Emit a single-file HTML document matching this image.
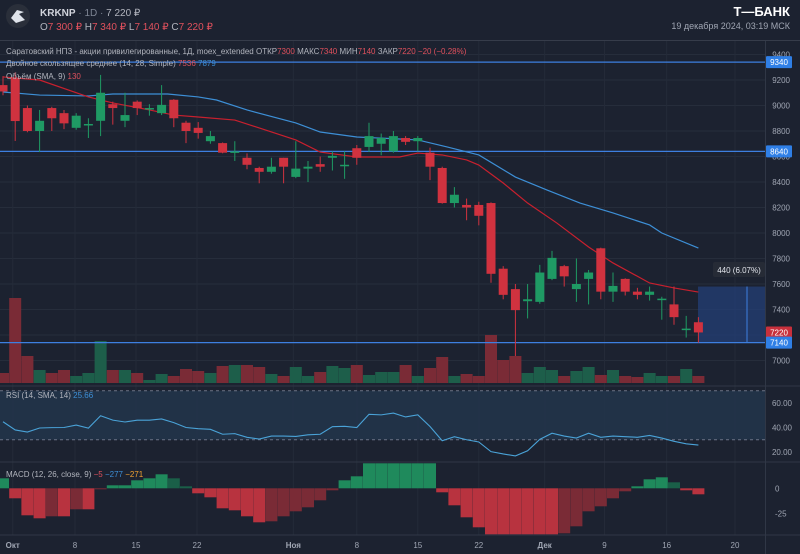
<!DOCTYPE html>
<html><head><meta charset="utf-8">
<style>
html,body{margin:0;padding:0;background:#1c2230;width:800px;height:554px;overflow:hidden;font-family:"Liberation Sans","Noto Sans CJK SC",sans-serif;}
svg{display:block}
</style></head>
<body>
<svg id="c" width="800" height="554" xmlns="http://www.w3.org/2000/svg">
<rect x="0" y="0" width="800" height="554" fill="#1c2230"/>
<g>
<circle cx="18" cy="16" r="12" fill="#2a2f3a"/>
<path d="M11 18 L17 10 L24 12 L19 14 L25 20 L16 23 Z" fill="#dfe3ea"/>
<text x="40" y="16" font-size="10" fill="#d1d4dc"><tspan font-weight="bold">KRKNP</tspan><tspan fill="#7e8594"> · 1D · </tspan><tspan fill="#b2b5be">7 220 ₽</tspan></text>
<text x="40" y="30" font-size="10" fill="#b2b5be">O<tspan fill="#e0515d">7 300 ₽</tspan>  H<tspan fill="#e0515d">7 340 ₽</tspan>  L<tspan fill="#e0515d">7 140 ₽</tspan>  C<tspan fill="#e0515d">7 220 ₽</tspan></text>
<text x="790" y="16" font-size="13" font-weight="bold" fill="#ffffff" text-anchor="end">Т—БАНК</text>
<text x="790" y="29" font-size="9" fill="#a0a6b3" text-anchor="end">19 декабря 2024, 03:19 МСК</text>
<line x1="0" y1="40.5" x2="800" y2="40.5" stroke="#363c4a"/>
</g>
<g id="grid"></g>
<g id="plot"></g>
<g>
<text x="6" y="54" font-size="8" fill="#b2b5be">Саратовский НПЗ - акции привилегированные, 1Д, moex_extended  ОТКР<tspan fill="#e0515d">7300</tspan>  МАКС<tspan fill="#e0515d">7340</tspan>  МИН<tspan fill="#e0515d">7140</tspan>  ЗАКР<tspan fill="#e0515d">7220</tspan>  <tspan fill="#e0515d">−20 (−0.28%)</tspan></text>
<text x="6" y="66" font-size="8" fill="#b2b5be">Двойное скользящее среднее (14, 28, Simple)  <tspan fill="#e0515d">7536</tspan>  <tspan fill="#3d8fd6">7879</tspan></text>
<text x="6" y="79" font-size="8" fill="#b2b5be">Объём (SMA, 9)  <tspan fill="#e0515d">130</tspan></text>
<text x="6" y="398" font-size="8" fill="#b2b5be">RSI (14, SMA, 14)  <tspan fill="#3d8fd6">25.66</tspan></text>
<text x="6" y="477" font-size="8" fill="#b2b5be">MACD (12, 26, close, 9)  <tspan fill="#e0515d">−5</tspan>  <tspan fill="#3d8fd6">−277</tspan>  <tspan fill="#f0a030">−271</tspan></text>
</g>
</svg>
<script>
const opens =[9160,9216,8980,8800,8980,8940,8825,8845,8880,9010,8880,9030,8970,8940,9045,8865,8825,8720,8705,8630,8590,8510,8480,8590,8440,8505,8540,8590,8530,8665,8675,8700,8640,8745,8720,8630,8510,8235,8220,8220,8235,7720,7560,7465,7460,7640,7740,7560,7640,7880,7540,7640,7540,7515,7475,7440,7240,7300];
const highs =[9230,9260,9000,8965,8990,8965,8940,8900,9240,9030,9100,9040,9010,9160,9050,8880,8870,8800,8710,8720,8625,8520,8590,8590,8720,8565,8600,8640,8640,8690,8865,8780,8800,8760,8760,8670,8520,8360,8270,8245,8240,7740,7600,7600,7750,7860,7750,7800,7710,7885,7690,7645,7570,7580,7500,7580,7350,7340];
const lows  =[9080,8722,8790,8635,8800,8815,8810,8745,8760,8850,8830,8925,8920,8925,8830,8705,8740,8700,8625,8565,8500,8390,8465,8390,8430,8400,8480,8490,8425,8535,8635,8610,8630,8690,8640,8415,8230,8200,8100,8060,7610,7480,7035,7330,7445,7630,7580,7460,7440,7480,7460,7510,7480,7470,7320,7280,7180,7140];
const closes=[9110,8878,8800,8880,8900,8860,8920,8855,9100,8980,8925,8980,8980,9005,8900,8800,8785,8760,8630,8640,8535,8480,8520,8520,8505,8520,8520,8605,8535,8590,8760,8745,8760,8715,8745,8520,8235,8300,8200,8135,7680,7515,7395,7480,7690,7805,7660,7600,7690,7540,7585,7540,7515,7540,7485,7340,7250,7220];
const volumes=[10,85,27,13,10,13,7,10,42,13,13,10,3,9,7,14,12,10,17,18,18,16,9,7,16,7,11,17,15,18,8,11,11,18,7,15,26,7,9,7,48,23,27,10,16,13,7,12,16,8,13,7,6,10,7,7,14,7];
const ma14Idx=[0,3,7,9,12,14,16,19,21,24,26,29,32.5,34,36,38,39,41,43,45.4,48,50,53,55,57];
const ma14=[9224,9200,9067,9020,8965,8925,8910,8886,8824,8730,8635,8596,8596,8627,8612,8573,8533,8392,8235,8078,7890,7765,7608,7569,7537];
const ma28Idx=[0,3,7,9,13.5,16,17.5,20,24,26,29,32.5,34,36.4,39,42,44.6,47.3,50,53,54,57];
const ma28=[9106,9082,9075,9090,9090,9067,9043,8965,8863,8792,8753,8737,8730,8675,8612,8439,8337,8235,8157,8063,8000,7882];
const rsi=[44.7,38,36.3,39.6,39.9,40,42,39.5,49.6,46,44.5,46,46,47,44,40,39,38.5,34.5,35,32,30.6,33,33,32.7,34,34.5,40.7,41,40,50.8,50.3,51.8,48.6,50.3,40.8,29.2,32.5,30,28.2,20.3,18.4,16.8,21,30.3,35.3,33,31.4,35.3,32,33,32.5,32,33.5,31.4,28.7,26.7,25.7];
const macdHist=[10,-10,-27,-30,-28,-28,-21,-21,-1,3,3,8,10,14,10,2,-5,-9,-20,-22,-28,-34,-33,-28,-23,-19,-12,-2,8,12,25,25,25,25,25,25,-4,-17,-29,-39,-46,-46,-46,-46,-46,-46,-45,-38,-23,-18,-10,-3,2,9,11,6,-2,-6];
const priceTicks=[9400,9200,9000,8800,8600,8400,8200,8000,7800,7600,7400,7200,7000];
const rsiTicks=[60,40,20];
const macdTicks=[0,-25];
const dateLabels=['Окт','8','15','22','Ноя','8','15','22','Дек','9','16','20'];
const dateIdx=[0.8,5.9,10.9,15.9,23.8,29,34,39,44.4,49.3,54.4,60];
const levels=[9340,8640,7140];

const NS='http://www.w3.org/2000/svg';
const plot=document.getElementById('plot'), grid=document.getElementById('grid'), svg=document.getElementById('c');
function mk(tag,attrs,parent){const e=document.createElementNS(NS,tag);for(const k in attrs)e.setAttribute(k,attrs[k]);(parent||plot).appendChild(e);return e;}
const xOf=i=>3+i*12.2;
const yP=p=>80+(9200-p)*0.1275;
const yR=v=>452-(v-20)*1.225;
const yM=v=>488.3-v*1.0;
const yV=v=>383-v;
const UP='#1f9a64', DN='#d0323f';

// grid
priceTicks.forEach(t=>{const g=mk('line',{x1:0,x2:765,y1:yP(t),y2:yP(t),stroke:'#262d3b'},grid);

});
dateIdx.forEach(d=>{const g=mk('line',{x1:xOf(d),x2:xOf(d),y1:41,y2:535,stroke:'#242b39'},grid);

});

// measurement box
const mb=mk('rect',{x:698,y:yP(7580),width:67,height:yP(7140)-yP(7580),fill:'#24407a',opacity:0.7});


const ma=mk('line',{x1:747,x2:747,y1:yP(7140),y2:yP(7580),stroke:'#3d7fe0'});



// volume
volumes.forEach((v,i)=>{const r=mk('rect',{x:xOf(i)-6,y:yV(v),width:12,height:v,fill:closes[i]>=opens[i]?'#1d5e4a':'#7a2b36'});

});

// horizontal levels
levels.forEach(l=>{const ln=mk('line',{x1:0,x2:765,y1:yP(l),y2:yP(l),stroke:'#3d7fe0','stroke-width':1.2});

});

// MA lines
function poly(idx,vals,color,name){const pts=idx.map((d,k)=>xOf(d)+','+yP(vals[k])).join(' ');const p=mk('polyline',{points:pts,fill:'none',stroke:color,'stroke-width':1.2});

}
poly(ma28Idx,ma28,'#3d8fd6','ma28-line');
poly(ma14Idx,ma14,'#c8202e','ma14-line');

// candles
opens.forEach((o,i)=>{const c=closes[i],up=c>=o,col=up?UP:DN,x=xOf(i);
const w=mk('line',{x1:x,x2:x,y1:yP(highs[i]),y2:yP(lows[i]),stroke:col});


const top=yP(Math.max(o,c)),h=Math.max(1.5,Math.abs(yP(o)-yP(c)));
const b=mk('rect',{x:x-4.5,y:top,width:9,height:h,fill:col});

});

// panel separators
[386,462,535].forEach(y=>{const s=mk('line',{x1:0,x2:800,y1:y,y2:y,stroke:'#303746'});

});

// RSI
const band=mk('rect',{x:0,y:yR(70),width:765,height:yR(30)-yR(70),fill:'#22344a',opacity:0.9});


[70,30].forEach(v=>{const d=mk('line',{x1:0,x2:765,y1:yR(v),y2:yR(v),stroke:'#6b7385','stroke-dasharray':'3,3'});

});
const rl=mk('polyline',{points:rsi.map((v,i)=>xOf(i)+','+yR(v)).join(' '),fill:'none',stroke:'#4aa3d8','stroke-width':1.1});



// MACD
macdHist.forEach((v,i)=>{const prev=i>0?macdHist[i-1]:0;let col;
if(v>=0)col=(v>=prev)?'#1f8a5c':'#1a5f48';else col=(v<=prev)?'#b8333f':'#7a2b36';
const r=mk('rect',{x:xOf(i)-6,y:Math.min(yM(v),yM(0)),width:12,height:Math.abs(v),fill:col});

});

// axes
const ax=mk('line',{x1:765.5,x2:765.5,y1:41,y2:554,stroke:'#303746'});


priceTicks.forEach(t=>{const tx=mk('text',{x:790,y:yP(t)+3,'font-size':8,fill:'#a0a6b3','text-anchor':'end'});tx.textContent=t;

});
rsiTicks.forEach(t=>{const tx=mk('text',{x:792,y:yR(t)+3,'font-size':8,fill:'#a0a6b3','text-anchor':'end'});tx.textContent=t.toFixed(2);

});
macdTicks.forEach(t=>{const tx=mk('text',{x:775,y:yM(t)+3,'font-size':8,fill:'#a0a6b3'});tx.textContent=t;

});
dateLabels.forEach((d,k)=>{const tx=mk('text',{x:xOf(dateIdx[k]),y:548,'font-size':8,fill:'#a0a6b3','text-anchor':'middle','font-weight':(isNaN(+d)?'bold':'normal')});tx.textContent=d;

});

// price badges
function badge(p,bg,name){const r=mk('rect',{x:766,y:yP(p)-6,width:26,height:12,fill:bg,rx:1});


const t=mk('text',{x:779,y:yP(p)+3,'font-size':8,fill:'#fff','text-anchor':'middle'});t.textContent=p;

}
badge(9340,'#2f7fe6','level-badge-9340');
badge(8640,'#2f7fe6','level-badge-8640');
badge(7220,'#c8303c','last-price-badge');
badge(7140,'#2f7fe6','level-badge-7140');
const mlb=mk('rect',{x:713,y:262,width:52,height:15,fill:'#262b36',rx:2});


const mlt=mk('text',{x:739,y:273,'font-size':8,fill:'#e0e3ea','text-anchor':'middle'});mlt.textContent='440 (6.07%)';


</script>
</body></html>
